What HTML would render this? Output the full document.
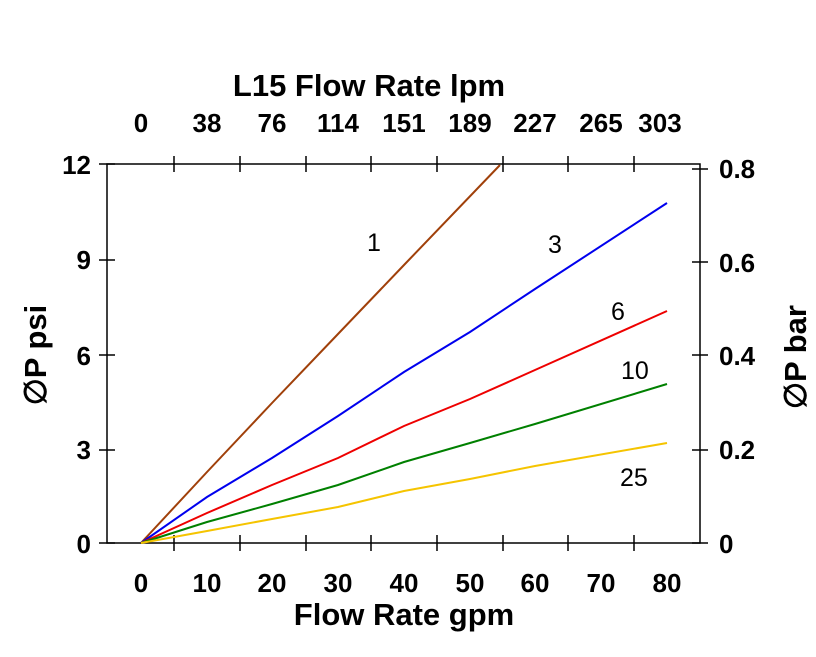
<!DOCTYPE html>
<html><head><style>body{margin:0;background:#fff}svg text{font-family:"Liberation Sans",Arial,sans-serif}</style></head>
<body>
<svg width="816" height="652" xmlns="http://www.w3.org/2000/svg">
<rect width="816" height="652" fill="#fff"/>
<g stroke="#000" stroke-width="1.5" fill="none">
<rect x="107" y="164" width="593" height="379"/>
<path d="M99 164H115M99 260H115M99 355H115M99 450H115M99 543H115"/>
<path d="M692 169H708M692 262H708M692 355H708M692 450H708M692 543H708"/>
<path d="M174 156V172M240 156V172M306 156V172M371 156V172M437 156V172M503 156V172M568 156V172M634 156V172"/>
<path d="M174 535V551M240 535V551M306 535V551M371 535V551M437 535V551M503 535V551M568 535V551M634 535V551"/>
</g>
<g fill="none" stroke-width="2">
<polyline stroke="#a0400a" points="141,543 207,472 272,403 338,334 404,265 500,165"/>
<polyline stroke="#0000ee" points="141,543 207,497 272,458 338,416 404,372 470,332 535,289 667,203"/>
<polyline stroke="#ee0000" points="141,543 207,513 272,485 338,458 404,426 470,399 535,370 667,311"/>
<polyline stroke="#008000" points="141,543 207,522 272,504 338,485 404,462 470,443 535,424 667,384"/>
<polyline stroke="#f5c400" points="141,543 207,531 272,519 338,507 404,491 470,479 535,466 667,443"/>
</g>
<g font-size="26" font-weight="bold" text-anchor="end">
<text x="91" y="174">12</text><text x="91" y="269">9</text><text x="91" y="365">6</text><text x="91" y="459">3</text><text x="91" y="553">0</text>
</g>
<g font-size="26" font-weight="bold">
<text x="719" y="178">0.8</text><text x="719" y="272">0.6</text><text x="719" y="365">0.4</text><text x="719" y="459">0.2</text><text x="719" y="553">0</text>
</g>
<g font-size="26" font-weight="bold" text-anchor="middle">
<text x="141" y="592">0</text><text x="207" y="592">10</text><text x="272" y="592">20</text><text x="338" y="592">30</text><text x="404" y="592">40</text><text x="470" y="592">50</text><text x="535" y="592">60</text><text x="601" y="592">70</text><text x="667" y="592">80</text>
<text x="141" y="132">0</text><text x="207" y="132">38</text><text x="272" y="132">76</text><text x="338" y="132">114</text><text x="404" y="132">151</text><text x="470" y="132">189</text><text x="535" y="132">227</text><text x="601" y="132">265</text><text x="660" y="132">303</text>
</g>
<text x="404" y="625" font-size="31" font-weight="bold" text-anchor="middle">Flow Rate gpm</text>
<text x="369" y="96" font-size="31" font-weight="bold" text-anchor="middle">L15 Flow Rate lpm</text>
<text transform="translate(46,355) rotate(-90)" font-size="31" font-weight="bold" text-anchor="middle">∅P psi</text>
<text transform="translate(806,357) rotate(-90)" font-size="31" font-weight="bold" text-anchor="middle">∅P bar</text>
<g font-size="25">
<text x="367" y="251">1</text><text x="548" y="253">3</text><text x="611" y="320">6</text><text x="621" y="379">10</text><text x="620" y="486">25</text>
</g>
</svg>
</body></html>
